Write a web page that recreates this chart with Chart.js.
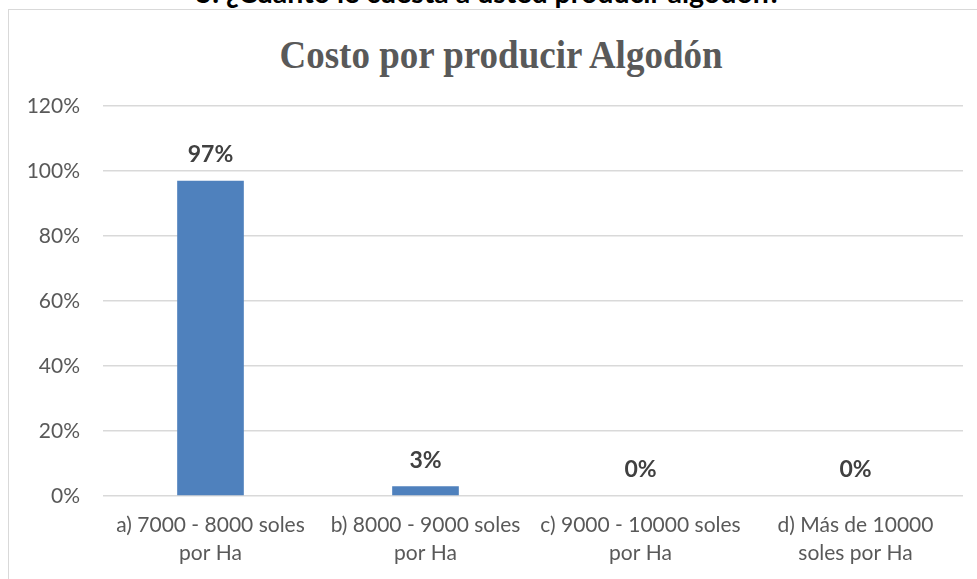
<!DOCTYPE html>
<html>
<head>
<meta charset="utf-8">
<script src="https://cdn.jsdelivr.net/npm/chart.js@4"></script>
<style>
  html, body { margin: 0; padding: 0; background: #fff; overflow: hidden; }
  #pregunta {
    position: absolute; left: 0; width: 977px; top: -25px;
    text-align: center; font: bold 28.5px "Lato", "Open Sans", sans-serif; color: #000;
  }
  #marco {
    position: absolute; left: 8px; top: 9px; width: 1000px; height: 600px;
    border: 1.5px solid #d9d9d9; box-sizing: border-box; background: #fff;
  }
  #titulo {
    position: absolute; left: 25px; width: 952px; top: 34px; height: 44px; line-height: 44px;
    text-align: center; color: #595959;
    font: bold 37px "Liberation Serif", "Times New Roman", serif;
    transform: scaleY(1.1); transform-origin: 50% 37px;
  }
  #wrap { position: absolute; left: 0; top: 0; width: 977px; height: 579px; }
</style>
</head>
<body>
<div id="pregunta">5. ¿Cuánto le cuesta a usted producir algodón?</div>
<div id="marco"></div>
<div id="titulo">Costo por producir Algodón</div>
<div id="wrap"><canvas id="costoChart"></canvas></div>
<script>
// datos
const categorias = [
  ['a) 7000 - 8000 soles', 'por Ha'],
  ['b) 8000 - 9000 soles', 'por Ha'],
  ['c) 9000 - 10000 soles', 'por Ha'],
  ['d) Más de 10000', 'soles por Ha']
];
const porcentajes = [97, 3, 0, 0];
const ticksY = [0, 20, 40, 60, 80, 100, 120];

const FUENTE = '"Lato", "Open Sans", sans-serif';

// etiquetas encima de las barras
const etiquetasBarras = {
  id: 'etiquetasBarras',
  afterDatasetsDraw(chart) {
    const ctx = chart.ctx;
    const meta = chart.getDatasetMeta(0);
    ctx.save();
    ctx.font = 'bold 23px ' + FUENTE;
    ctx.fillStyle = '#404040';
    ctx.textAlign = 'center';
    ctx.textBaseline = 'middle';
    meta.data.forEach((bar, i) => {
      ctx.fillText(porcentajes[i] + '%', bar.x, bar.y - 26);
    });
    ctx.restore();
  }
};

const ctx = document.getElementById('costoChart').getContext('2d');
new Chart(ctx, {
  type: 'bar',
  data: {
    labels: categorias,
    datasets: [{
      data: porcentajes,
      backgroundColor: '#4f81bd',
      barPercentage: 0.62,
      categoryPercentage: 0.5
    }]
  },
  options: {
    responsive: true,
    maintainAspectRatio: false,
    animation: false,
    layout: { padding: { left: 0, right: 14, top: 106, bottom: 0 } },
    scales: {
      x: {
        grid: { display: false, drawTicks: false },
        border: { display: false },
        ticks: {
          color: '#595959',
          font: { family: FUENTE, size: 21, lineHeight: 1.33 },
          padding: 15,
          maxRotation: 0,
          autoSkip: false
        },
        afterFit: s => { s.height = 83; }
      },
      y: {
        min: 0,
        max: 120,
        afterBuildTicks: s => { s.ticks = ticksY.map(v => ({ value: v })); },
        grid: { color: '#d9d9d9', lineWidth: 1.5, drawTicks: false },
        border: { display: false },
        ticks: {
          color: '#595959',
          font: { family: FUENTE, size: 21 },
          padding: 23,
          callback: v => v + '%'
        },
        afterFit: s => { s.width = 103; }
      }
    },
    plugins: {
      legend: { display: false },
      tooltip: { enabled: false },
      title: { display: false }
    }
  },
  plugins: [etiquetasBarras]
});
</script>
</body>
</html>
